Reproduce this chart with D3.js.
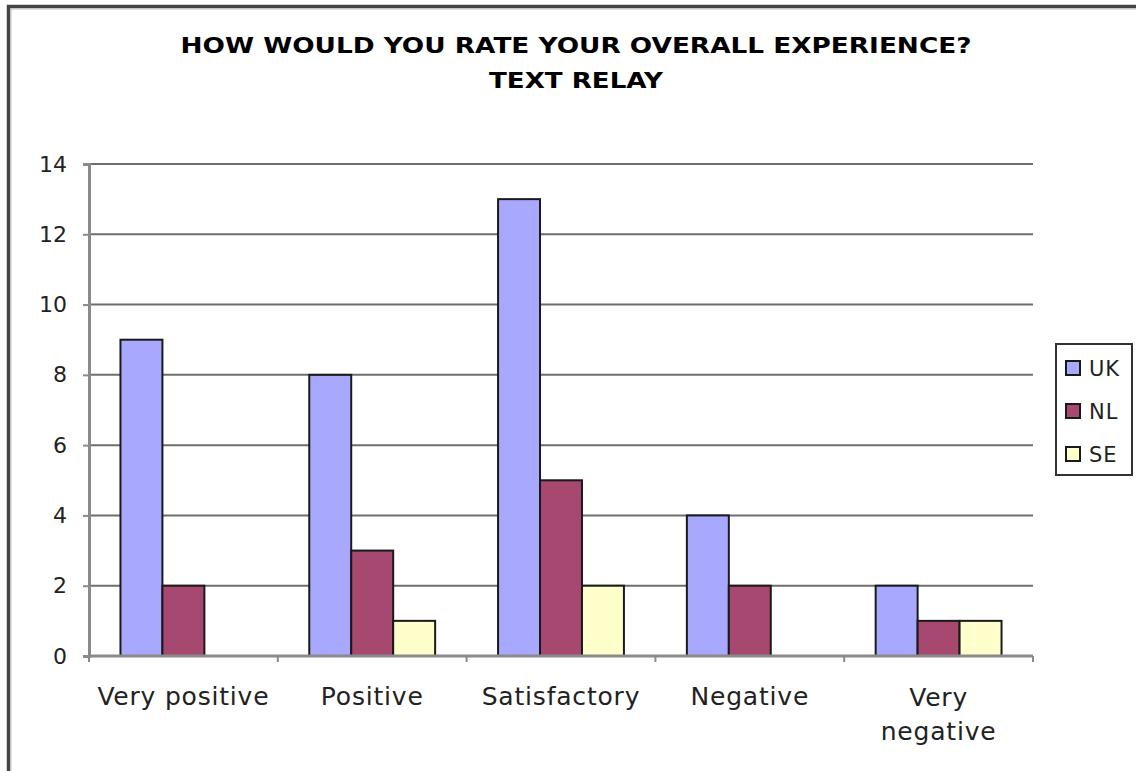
<!DOCTYPE html>
<html>
<head>
<meta charset="utf-8">
<script src="https://cdn.jsdelivr.net/npm/d3@7"></script>
<style>
  html, body { margin: 0; padding: 0; background: #fff; }
  svg { display: block; }
  text { font-family: "DejaVu Sans", Verdana, sans-serif; fill: #222; }
</style>
</head>
<body>
<svg id="chart" width="1136" height="771"></svg>
<script>
// Survey answers per rating category
const categories = ["Very positive", "Positive", "Satisfactory", "Negative", "Very negative"];
const seriesNames = ["UK", "NL", "SE"];
const ukValues = [9, 8, 13, 4, 2];
const nlValues = [2, 3, 5, 2, 1];
const seValues = [0, 1, 2, 0, 1];
const yTicks = [0, 2, 4, 6, 8, 10, 12, 14];
const titleLines = ["HOW WOULD YOU RATE YOUR OVERALL EXPERIENCE?", "TEXT RELAY"];

const seriesValues = [ukValues, nlValues, seValues];
const colors = ["#a8a8ff", "#a6486f", "#ffffcc"];

const svg = d3.select("#chart");
const plot = { left: 89, right: 1033, top: 164, bottom: 656 };

// Outer frame of the chart area
svg.append("rect")
  .attr("x", 8.5).attr("y", 6.5)
  .attr("width", 1200).attr("height", 900)
  .attr("fill", "none").attr("stroke", "#444").attr("stroke-width", 3.5);
svg.append("rect")
  .attr("x", 11).attr("y", 9)
  .attr("width", 1200).attr("height", 900)
  .attr("fill", "none").attr("stroke", "#bbb").attr("stroke-width", 1);

// Title
const titleWidths = [791, 174];
svg.selectAll("text.title")
  .data(titleLines)
  .join("text")
  .attr("class", "title")
  .attr("x", 576)
  .attr("y", (d, i) => 53 + i * 35)
  .attr("text-anchor", "middle")
  .attr("font-size", 22)
  .attr("font-weight", "bold")
  .attr("textLength", (d, i) => titleWidths[i])
  .attr("lengthAdjust", "spacingAndGlyphs")
  .style("fill", "#000")
  .text(d => d);

const x0 = d3.scaleBand().domain(categories).range([plot.left, plot.right]).paddingInner(0).paddingOuter(0);
const barW = x0.bandwidth() / 4.5;
const x1 = d3.scaleBand().domain(seriesNames).range([0, barW * 3]);
const groupOffset = (x0.bandwidth() - barW * 3) / 2;
const y = d3.scaleLinear().domain([0, 14]).range([plot.bottom, plot.top]);

// Horizontal gridlines
svg.append("g")
  .selectAll("line")
  .data(yTicks.filter(t => t > 0))
  .join("line")
  .attr("x1", plot.left).attr("x2", plot.right)
  .attr("y1", d => y(d)).attr("y2", d => y(d))
  .attr("stroke", "#6e6e6e").attr("stroke-width", 2);

// Bars
const groups = svg.append("g")
  .selectAll("g")
  .data(categories)
  .join("g")
  .attr("transform", d => `translate(${x0(d) + groupOffset},0)`);

groups.selectAll("rect")
  .data((c, ci) => seriesNames.map((s, si) => ({ s, si, v: seriesValues[si][ci] })).filter(d => d.v > 0))
  .join("rect")
  .attr("x", d => x1(d.s))
  .attr("y", d => y(d.v))
  .attr("width", x1.bandwidth())
  .attr("height", d => y(0) - y(d.v))
  .attr("fill", d => colors[d.si])
  .attr("stroke", "#1a1a1a")
  .attr("stroke-width", 2);

// Y axis
const yAxis = svg.append("g")
  .attr("transform", `translate(${plot.left},0)`)
  .call(d3.axisLeft(y).tickValues(yTicks).tickSize(6).tickPadding(16));
yAxis.select(".domain").attr("stroke", "#8a8a8a").attr("stroke-width", 3);
yAxis.selectAll(".tick line").attr("stroke", "#8a8a8a").attr("stroke-width", 2);
yAxis.selectAll(".tick text")
  .attr("font-size", 22)
  .attr("font-family", "DejaVu Sans, Verdana, sans-serif")
  .style("fill", "#222");

// X axis line with ticks at category boundaries
const xAxis = svg.append("g");
xAxis.append("line")
  .attr("x1", plot.left).attr("x2", plot.right)
  .attr("y1", plot.bottom).attr("y2", plot.bottom)
  .attr("stroke", "#8a8a8a").attr("stroke-width", 3);
const boundaries = categories.map(c => x0(c)).concat([plot.right]);
xAxis.selectAll("line.tick")
  .data(boundaries)
  .join("line")
  .attr("class", "tick")
  .attr("x1", d => d).attr("x2", d => d)
  .attr("y1", plot.bottom).attr("y2", plot.bottom + 6)
  .attr("stroke", "#8a8a8a").attr("stroke-width", 2);

// Category labels (wrapped where they are too wide)
const labelLines = { "Very negative": ["Very", "negative"] };
xAxis.selectAll("text.cat")
  .data(categories)
  .join("text")
  .attr("class", "cat")
  .attr("x", d => x0(d) + x0.bandwidth() / 2)
  .attr("y", d => labelLines[d] ? 706 : 705)
  .attr("text-anchor", "middle")
  .attr("font-size", 25)
  .attr("letter-spacing", 0.8)
  .each(function (d) {
    const lines = labelLines[d] || [d];
    const t = d3.select(this);
    lines.forEach((ln, i) => {
      t.append("tspan")
        .attr("x", x0(d) + x0.bandwidth() / 2)
        .attr("dy", i === 0 ? 0 : 34)
        .text(ln);
    });
  });

// Legend
const legend = svg.append("g");
legend.append("rect")
  .attr("x", 1056).attr("y", 344)
  .attr("width", 76).attr("height", 131)
  .attr("fill", "#fff").attr("stroke", "#333").attr("stroke-width", 2);
const items = legend.selectAll("g.item")
  .data(seriesNames)
  .join("g")
  .attr("class", "item")
  .attr("transform", (d, i) => `translate(1066,${368 + i * 43})`);
items.append("rect")
  .attr("x", 0).attr("y", -7)
  .attr("width", 14).attr("height", 14)
  .attr("fill", (d, i) => colors[i])
  .attr("stroke", "#1a1a1a").attr("stroke-width", 2);
items.append("text")
  .attr("x", 23).attr("y", 8)
  .attr("font-size", 21)
  .attr("letter-spacing", 1)
  .text(d => d);
</script>
</body>
</html>
